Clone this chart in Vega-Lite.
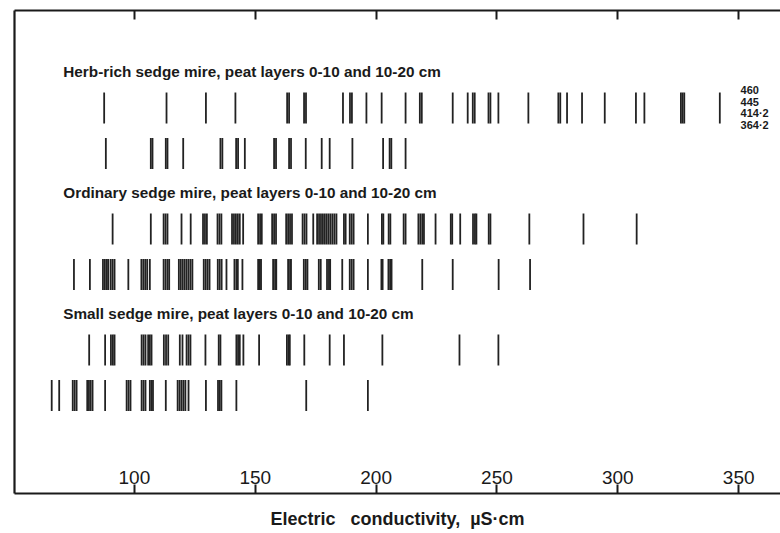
{
  "$schema": "https://vega.github.io/schema/vega-lite/v6.json",
  "width": 766,
  "height": 483,
  "autosize": {"type": "none"},
  "padding": {"left": 14, "top": 10, "right": 0, "bottom": 40},
  "background": "white",
  "config": {"view": {"stroke": null}, "font": "Liberation Sans"},
  "datasets": {
    "obs": [
      {"mire":"Herb-rich","layer":"0-10","ec":87.7},{"mire":"Herb-rich","layer":"0-10","ec":113.5},{"mire":"Herb-rich","layer":"0-10","ec":129.8},{"mire":"Herb-rich","layer":"0-10","ec":142.0},{"mire":"Herb-rich","layer":"0-10","ec":163.4},{"mire":"Herb-rich","layer":"0-10","ec":164.2},{"mire":"Herb-rich","layer":"0-10","ec":170.4},{"mire":"Herb-rich","layer":"0-10","ec":171.2},{"mire":"Herb-rich","layer":"0-10","ec":186.5},{"mire":"Herb-rich","layer":"0-10","ec":189.4},{"mire":"Herb-rich","layer":"0-10","ec":190.2},{"mire":"Herb-rich","layer":"0-10","ec":196.2},{"mire":"Herb-rich","layer":"0-10","ec":202.5},{"mire":"Herb-rich","layer":"0-10","ec":212.4},{"mire":"Herb-rich","layer":"0-10","ec":218.3},{"mire":"Herb-rich","layer":"0-10","ec":219.1},{"mire":"Herb-rich","layer":"0-10","ec":231.9},{"mire":"Herb-rich","layer":"0-10","ec":238.1},{"mire":"Herb-rich","layer":"0-10","ec":240.2},{"mire":"Herb-rich","layer":"0-10","ec":241.0},{"mire":"Herb-rich","layer":"0-10","ec":246.7},{"mire":"Herb-rich","layer":"0-10","ec":247.5},{"mire":"Herb-rich","layer":"0-10","ec":250.8},{"mire":"Herb-rich","layer":"0-10","ec":263.2},{"mire":"Herb-rich","layer":"0-10","ec":275.6},{"mire":"Herb-rich","layer":"0-10","ec":276.4},{"mire":"Herb-rich","layer":"0-10","ec":279.2},{"mire":"Herb-rich","layer":"0-10","ec":285.4},{"mire":"Herb-rich","layer":"0-10","ec":294.8},{"mire":"Herb-rich","layer":"0-10","ec":307.7},{"mire":"Herb-rich","layer":"0-10","ec":311.2},{"mire":"Herb-rich","layer":"0-10","ec":326.3},{"mire":"Herb-rich","layer":"0-10","ec":327.0},{"mire":"Herb-rich","layer":"0-10","ec":327.7},{"mire":"Herb-rich","layer":"0-10","ec":342.4},
      {"mire":"Herb-rich","layer":"10-20","ec":88.4},{"mire":"Herb-rich","layer":"10-20","ec":107.0},{"mire":"Herb-rich","layer":"10-20","ec":107.7},{"mire":"Herb-rich","layer":"10-20","ec":113.2},{"mire":"Herb-rich","layer":"10-20","ec":113.9},{"mire":"Herb-rich","layer":"10-20","ec":120.4},{"mire":"Herb-rich","layer":"10-20","ec":135.8},{"mire":"Herb-rich","layer":"10-20","ec":136.6},{"mire":"Herb-rich","layer":"10-20","ec":142.3},{"mire":"Herb-rich","layer":"10-20","ec":143.1},{"mire":"Herb-rich","layer":"10-20","ec":145.9},{"mire":"Herb-rich","layer":"10-20","ec":158.0},{"mire":"Herb-rich","layer":"10-20","ec":158.8},{"mire":"Herb-rich","layer":"10-20","ec":164.2},{"mire":"Herb-rich","layer":"10-20","ec":165.0},{"mire":"Herb-rich","layer":"10-20","ec":171.1},{"mire":"Herb-rich","layer":"10-20","ec":177.7},{"mire":"Herb-rich","layer":"10-20","ec":181.0},{"mire":"Herb-rich","layer":"10-20","ec":190.4},{"mire":"Herb-rich","layer":"10-20","ec":203.1},{"mire":"Herb-rich","layer":"10-20","ec":205.8},{"mire":"Herb-rich","layer":"10-20","ec":206.5},{"mire":"Herb-rich","layer":"10-20","ec":212.4},
      {"mire":"Ordinary","layer":"0-10","ec":91.2},{"mire":"Ordinary","layer":"0-10","ec":107.0},{"mire":"Ordinary","layer":"0-10","ec":112.3},{"mire":"Ordinary","layer":"0-10","ec":113.1},{"mire":"Ordinary","layer":"0-10","ec":113.9},{"mire":"Ordinary","layer":"0-10","ec":119.7},{"mire":"Ordinary","layer":"0-10","ec":123.5},{"mire":"Ordinary","layer":"0-10","ec":128.6},{"mire":"Ordinary","layer":"0-10","ec":129.4},{"mire":"Ordinary","layer":"0-10","ec":130.2},{"mire":"Ordinary","layer":"0-10","ec":134.6},{"mire":"Ordinary","layer":"0-10","ec":135.4},{"mire":"Ordinary","layer":"0-10","ec":136.2},{"mire":"Ordinary","layer":"0-10","ec":140.6},{"mire":"Ordinary","layer":"0-10","ec":141.4},{"mire":"Ordinary","layer":"0-10","ec":142.2},{"mire":"Ordinary","layer":"0-10","ec":143.0},{"mire":"Ordinary","layer":"0-10","ec":143.8},{"mire":"Ordinary","layer":"0-10","ec":145.2},{"mire":"Ordinary","layer":"0-10","ec":151.4},{"mire":"Ordinary","layer":"0-10","ec":152.2},{"mire":"Ordinary","layer":"0-10","ec":152.9},{"mire":"Ordinary","layer":"0-10","ec":157.2},{"mire":"Ordinary","layer":"0-10","ec":158.0},{"mire":"Ordinary","layer":"0-10","ec":158.8},{"mire":"Ordinary","layer":"0-10","ec":163.0},{"mire":"Ordinary","layer":"0-10","ec":163.8},{"mire":"Ordinary","layer":"0-10","ec":164.6},{"mire":"Ordinary","layer":"0-10","ec":165.4},{"mire":"Ordinary","layer":"0-10","ec":169.8},{"mire":"Ordinary","layer":"0-10","ec":170.6},{"mire":"Ordinary","layer":"0-10","ec":171.4},{"mire":"Ordinary","layer":"0-10","ec":174.2},{"mire":"Ordinary","layer":"0-10","ec":175.8},{"mire":"Ordinary","layer":"0-10","ec":176.6},{"mire":"Ordinary","layer":"0-10","ec":177.4},{"mire":"Ordinary","layer":"0-10","ec":178.2},{"mire":"Ordinary","layer":"0-10","ec":179.0},{"mire":"Ordinary","layer":"0-10","ec":179.8},{"mire":"Ordinary","layer":"0-10","ec":180.6},{"mire":"Ordinary","layer":"0-10","ec":181.4},{"mire":"Ordinary","layer":"0-10","ec":182.2},{"mire":"Ordinary","layer":"0-10","ec":183.0},{"mire":"Ordinary","layer":"0-10","ec":183.8},{"mire":"Ordinary","layer":"0-10","ec":186.9},{"mire":"Ordinary","layer":"0-10","ec":187.6},{"mire":"Ordinary","layer":"0-10","ec":189.3},{"mire":"Ordinary","layer":"0-10","ec":190.1},{"mire":"Ordinary","layer":"0-10","ec":190.9},{"mire":"Ordinary","layer":"0-10","ec":196.8},{"mire":"Ordinary","layer":"0-10","ec":202.6},{"mire":"Ordinary","layer":"0-10","ec":203.2},{"mire":"Ordinary","layer":"0-10","ec":205.4},{"mire":"Ordinary","layer":"0-10","ec":206.1},{"mire":"Ordinary","layer":"0-10","ec":211.6},{"mire":"Ordinary","layer":"0-10","ec":212.4},{"mire":"Ordinary","layer":"0-10","ec":217.7},{"mire":"Ordinary","layer":"0-10","ec":218.5},{"mire":"Ordinary","layer":"0-10","ec":219.3},{"mire":"Ordinary","layer":"0-10","ec":220.0},{"mire":"Ordinary","layer":"0-10","ec":224.8},{"mire":"Ordinary","layer":"0-10","ec":231.1},{"mire":"Ordinary","layer":"0-10","ec":231.7},{"mire":"Ordinary","layer":"0-10","ec":235.0},{"mire":"Ordinary","layer":"0-10","ec":240.3},{"mire":"Ordinary","layer":"0-10","ec":241.1},{"mire":"Ordinary","layer":"0-10","ec":241.7},{"mire":"Ordinary","layer":"0-10","ec":246.8},{"mire":"Ordinary","layer":"0-10","ec":247.5},{"mire":"Ordinary","layer":"0-10","ec":263.6},{"mire":"Ordinary","layer":"0-10","ec":286.0},{"mire":"Ordinary","layer":"0-10","ec":308.0},
      {"mire":"Ordinary","layer":"10-20","ec":75.2},{"mire":"Ordinary","layer":"10-20","ec":81.8},{"mire":"Ordinary","layer":"10-20","ec":87.2},{"mire":"Ordinary","layer":"10-20","ec":88.0},{"mire":"Ordinary","layer":"10-20","ec":88.8},{"mire":"Ordinary","layer":"10-20","ec":89.4},{"mire":"Ordinary","layer":"10-20","ec":90.4},{"mire":"Ordinary","layer":"10-20","ec":91.2},{"mire":"Ordinary","layer":"10-20","ec":92.0},{"mire":"Ordinary","layer":"10-20","ec":97.7},{"mire":"Ordinary","layer":"10-20","ec":103.1},{"mire":"Ordinary","layer":"10-20","ec":103.9},{"mire":"Ordinary","layer":"10-20","ec":104.7},{"mire":"Ordinary","layer":"10-20","ec":105.5},{"mire":"Ordinary","layer":"10-20","ec":106.6},{"mire":"Ordinary","layer":"10-20","ec":112.3},{"mire":"Ordinary","layer":"10-20","ec":113.1},{"mire":"Ordinary","layer":"10-20","ec":113.9},{"mire":"Ordinary","layer":"10-20","ec":114.6},{"mire":"Ordinary","layer":"10-20","ec":118.6},{"mire":"Ordinary","layer":"10-20","ec":119.4},{"mire":"Ordinary","layer":"10-20","ec":120.2},{"mire":"Ordinary","layer":"10-20","ec":121.0},{"mire":"Ordinary","layer":"10-20","ec":121.8},{"mire":"Ordinary","layer":"10-20","ec":122.6},{"mire":"Ordinary","layer":"10-20","ec":123.4},{"mire":"Ordinary","layer":"10-20","ec":124.2},{"mire":"Ordinary","layer":"10-20","ec":128.9},{"mire":"Ordinary","layer":"10-20","ec":129.7},{"mire":"Ordinary","layer":"10-20","ec":130.5},{"mire":"Ordinary","layer":"10-20","ec":131.3},{"mire":"Ordinary","layer":"10-20","ec":134.7},{"mire":"Ordinary","layer":"10-20","ec":135.5},{"mire":"Ordinary","layer":"10-20","ec":136.3},{"mire":"Ordinary","layer":"10-20","ec":138.3},{"mire":"Ordinary","layer":"10-20","ec":141.6},{"mire":"Ordinary","layer":"10-20","ec":142.4},{"mire":"Ordinary","layer":"10-20","ec":143.0},{"mire":"Ordinary","layer":"10-20","ec":144.9},{"mire":"Ordinary","layer":"10-20","ec":151.4},{"mire":"Ordinary","layer":"10-20","ec":152.1},{"mire":"Ordinary","layer":"10-20","ec":152.6},{"mire":"Ordinary","layer":"10-20","ec":157.6},{"mire":"Ordinary","layer":"10-20","ec":158.4},{"mire":"Ordinary","layer":"10-20","ec":158.9},{"mire":"Ordinary","layer":"10-20","ec":163.8},{"mire":"Ordinary","layer":"10-20","ec":164.6},{"mire":"Ordinary","layer":"10-20","ec":165.0},{"mire":"Ordinary","layer":"10-20","ec":170.3},{"mire":"Ordinary","layer":"10-20","ec":171.1},{"mire":"Ordinary","layer":"10-20","ec":171.8},{"mire":"Ordinary","layer":"10-20","ec":176.5},{"mire":"Ordinary","layer":"10-20","ec":177.3},{"mire":"Ordinary","layer":"10-20","ec":179.9},{"mire":"Ordinary","layer":"10-20","ec":180.7},{"mire":"Ordinary","layer":"10-20","ec":181.2},{"mire":"Ordinary","layer":"10-20","ec":186.2},{"mire":"Ordinary","layer":"10-20","ec":189.3},{"mire":"Ordinary","layer":"10-20","ec":190.1},{"mire":"Ordinary","layer":"10-20","ec":190.9},{"mire":"Ordinary","layer":"10-20","ec":196.8},{"mire":"Ordinary","layer":"10-20","ec":202.4},{"mire":"Ordinary","layer":"10-20","ec":202.9},{"mire":"Ordinary","layer":"10-20","ec":205.3},{"mire":"Ordinary","layer":"10-20","ec":206.0},{"mire":"Ordinary","layer":"10-20","ec":206.6},{"mire":"Ordinary","layer":"10-20","ec":219.3},{"mire":"Ordinary","layer":"10-20","ec":231.9},{"mire":"Ordinary","layer":"10-20","ec":250.9},{"mire":"Ordinary","layer":"10-20","ec":263.9},
      {"mire":"Small","layer":"0-10","ec":81.5},{"mire":"Small","layer":"0-10","ec":88.1},{"mire":"Small","layer":"0-10","ec":90.5},{"mire":"Small","layer":"0-10","ec":91.3},{"mire":"Small","layer":"0-10","ec":92.0},{"mire":"Small","layer":"0-10","ec":103.2},{"mire":"Small","layer":"0-10","ec":104.0},{"mire":"Small","layer":"0-10","ec":104.8},{"mire":"Small","layer":"0-10","ec":105.9},{"mire":"Small","layer":"0-10","ec":106.6},{"mire":"Small","layer":"0-10","ec":107.3},{"mire":"Small","layer":"0-10","ec":112.4},{"mire":"Small","layer":"0-10","ec":113.3},{"mire":"Small","layer":"0-10","ec":114.2},{"mire":"Small","layer":"0-10","ec":119.0},{"mire":"Small","layer":"0-10","ec":120.1},{"mire":"Small","layer":"0-10","ec":121.8},{"mire":"Small","layer":"0-10","ec":122.6},{"mire":"Small","layer":"0-10","ec":123.4},{"mire":"Small","layer":"0-10","ec":129.6},{"mire":"Small","layer":"0-10","ec":135.1},{"mire":"Small","layer":"0-10","ec":135.8},{"mire":"Small","layer":"0-10","ec":142.4},{"mire":"Small","layer":"0-10","ec":143.1},{"mire":"Small","layer":"0-10","ec":143.8},{"mire":"Small","layer":"0-10","ec":145.3},{"mire":"Small","layer":"0-10","ec":151.8},{"mire":"Small","layer":"0-10","ec":163.3},{"mire":"Small","layer":"0-10","ec":164.0},{"mire":"Small","layer":"0-10","ec":164.5},{"mire":"Small","layer":"0-10","ec":170.5},{"mire":"Small","layer":"0-10","ec":181.0},{"mire":"Small","layer":"0-10","ec":186.9},{"mire":"Small","layer":"0-10","ec":202.8},{"mire":"Small","layer":"0-10","ec":234.7},{"mire":"Small","layer":"0-10","ec":250.8},
      {"mire":"Small","layer":"10-20","ec":66.0},{"mire":"Small","layer":"10-20","ec":69.1},{"mire":"Small","layer":"10-20","ec":74.7},{"mire":"Small","layer":"10-20","ec":75.5},{"mire":"Small","layer":"10-20","ec":76.3},{"mire":"Small","layer":"10-20","ec":80.7},{"mire":"Small","layer":"10-20","ec":81.4},{"mire":"Small","layer":"10-20","ec":82.1},{"mire":"Small","layer":"10-20","ec":82.9},{"mire":"Small","layer":"10-20","ec":88.1},{"mire":"Small","layer":"10-20","ec":97.0},{"mire":"Small","layer":"10-20","ec":97.8},{"mire":"Small","layer":"10-20","ec":98.6},{"mire":"Small","layer":"10-20","ec":103.2},{"mire":"Small","layer":"10-20","ec":104.0},{"mire":"Small","layer":"10-20","ec":104.8},{"mire":"Small","layer":"10-20","ec":106.6},{"mire":"Small","layer":"10-20","ec":107.3},{"mire":"Small","layer":"10-20","ec":107.9},{"mire":"Small","layer":"10-20","ec":113.2},{"mire":"Small","layer":"10-20","ec":118.1},{"mire":"Small","layer":"10-20","ec":118.9},{"mire":"Small","layer":"10-20","ec":119.7},{"mire":"Small","layer":"10-20","ec":120.5},{"mire":"Small","layer":"10-20","ec":121.3},{"mire":"Small","layer":"10-20","ec":122.6},{"mire":"Small","layer":"10-20","ec":129.8},{"mire":"Small","layer":"10-20","ec":134.8},{"mire":"Small","layer":"10-20","ec":135.5},{"mire":"Small","layer":"10-20","ec":136.2},{"mire":"Small","layer":"10-20","ec":142.4},{"mire":"Small","layer":"10-20","ec":171.3},{"mire":"Small","layer":"10-20","ec":196.8}
    ],
    "titles": [
      {"mire":"Herb-rich","title":"Herb-rich sedge mire, peat layers 0-10 and 10-20 cm"},
      {"mire":"Ordinary","title":"Ordinary sedge mire, peat layers 0-10 and 10-20 cm"},
      {"mire":"Small","title":"Small sedge mire, peat layers 0-10 and 10-20 cm"}
    ],
    "offscale": [
      {"mire":"Herb-rich","layer":"0-10","note":"460\n445\n414·2\n364·2"}
    ]
  },
  "layer": [
    {
      "data": {"name": "obs"},
      "mark": {"type": "tick", "thickness": 1.8, "size": 31, "color": "#222222", "opacity": 1},
      "encoding": {
        "x": {
          "field": "ec", "type": "quantitative",
          "scale": {"domain": [50.4, 367.3], "nice": false, "zero": false},
          "axis": {
            "orient": "bottom", "values": [100, 150, 200, 250, 300, 350], "format": "d",
            "grid": false, "tickSize": -9, "tickWidth": 2, "tickColor": "#1a1a1a",
            "domainColor": "#1a1a1a", "domainWidth": 2.2,
            "labelBaseline": "alphabetic", "labelPadding": -1, "labelFontSize": 19,
            "labelColor": "#1a1a1a", "labelFont": "Liberation Sans", "labelFlush": false,
            "title": "Electric\u00a0\u00a0\u00a0conductivity,\u00a0\u00a0µS·cm",
            "titleFont": "Liberation Sans", "titleFontSize": 18, "titleFontWeight": "bold",
            "titleColor": "#1a1a1a", "titlePadding": 16
          }
        },
        "y": {
          "field": "mire", "type": "nominal",
          "scale": {"domain": ["Herb-rich", "Ordinary", "Small"], "paddingInner": 0, "paddingOuter": 0.496, "align": 0.4167},
          "axis": {"orient": "left", "labels": false, "ticks": false, "title": null, "grid": false, "domainColor": "#1a1a1a", "domainWidth": 2.2}
        },
        "yOffset": {
          "field": "layer", "type": "nominal",
          "scale": {"domain": ["0-10", "10-20"], "paddingInner": 0, "paddingOuter": 0.3297, "align": 0.8417}
        }
      }
    },
    {
      "data": {"name": "obs"},
      "mark": {"type": "tick", "opacity": 0},
      "encoding": {
        "x": {
          "field": "ec", "type": "quantitative",
          "axis": {"orient": "top", "values": [100, 150, 200, 250, 300, 350], "labels": false, "grid": false,
                   "tickSize": -9, "tickWidth": 2, "tickColor": "#1a1a1a", "domainColor": "#1a1a1a", "domainWidth": 2.2, "title": null}
        },
        "y": {"field": "mire", "type": "nominal", "axis": null}
      }
    },
    {
      "data": {"name": "titles"},
      "mark": {"type": "text", "align": "left", "baseline": "middle", "dy": -48.5, "fontSize": 15.3, "fontWeight": "bold", "font": "Liberation Sans", "color": "#1a1a1a"},
      "encoding": {
        "x": {"datum": 70.8, "type": "quantitative", "axis": null},
        "y": {"field": "mire", "type": "nominal", "axis": null},
        "text": {"field": "title"}
      }
    },
    {
      "data": {"name": "offscale"},
      "mark": {"type": "text", "align": "left", "baseline": "middle", "dy": -17, "lineBreak": "\n", "lineHeight": 11.5, "fontSize": 11, "fontWeight": "bold", "font": "Liberation Sans", "color": "#1a1a1a"},
      "encoding": {
        "x": {"datum": 351, "type": "quantitative", "axis": null},
        "y": {"field": "mire", "type": "nominal", "axis": null},
        "yOffset": {"field": "layer", "type": "nominal"},
        "text": {"field": "note"}
      }
    }
  ],
  "resolve": {"axis": {"x": "independent", "y": "independent"}}
}
